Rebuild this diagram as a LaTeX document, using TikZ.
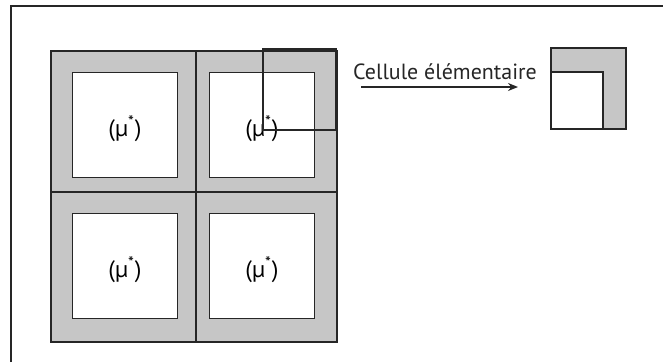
\documentclass[tikz,border=0pt]{standalone}
\usepackage{fontspec}
\setmainfont{PT Sans}
\usetikzlibrary{arrows.meta, positioning}
\definecolor{bandgray}{HTML}{C6C6C6}
\definecolor{inkline}{HTML}{262626}

\begin{document}
\begin{tikzpicture}[
  x=0.02cm, y=-0.02cm,
  >={Stealth[length=2mm, width=1.6mm]},
  incl/.style={draw=inkline, line width=0.9pt, fill=white,
    minimum width=2.1cm, minimum height=2.1cm, inner sep=0pt,
    text height=4.6mm, text depth=0mm, font=\fontsize{13.5}{15}\selectfont},
]
\useasboundingbox (0,0) rectangle (663,362);

% Frame (only top and left edges show)
\draw[inkline, line width=0.8pt] (11,362) -- (11,6) -- (663,6);

% === Matrix with four cells ===
\fill[bandgray] (51,51) rectangle (337,342);
\draw[inkline, line width=0.9pt] (51,51) rectangle (337,342);
\draw[inkline, line width=0.9pt] (196,51) -- (196,342);
\draw[inkline, line width=0.9pt] (51,192) -- (337,192);

% Inclusions
\node[incl] (c11) at (125,125) {(µ\textsuperscript{*})};
\node[incl] (c12) at (262,125) {(µ\textsuperscript{*})};
\node[incl] (c21) at (125,266) {(µ\textsuperscript{*})};
\node[incl] (c22) at (262,266) {(µ\textsuperscript{*})};

% === Elementary cell cut out of the top right cell ===
\draw[inkline, line width=1pt] (263,130) rectangle (336,49);

% Label and arrow
\node[font=\fontsize{12.5}{14}\selectfont, text=inkline] (lbl) at (445,72) {Cellule élémentaire};
\coordinate (a0) at (361,87);
\coordinate (a1) at (518,87);
\draw[->, inkline, line width=0.8pt] (a0) -- (a1);

% === Elementary cell, on its own ===
\fill[bandgray] (551,48) rectangle (626,129);
\fill[white] (551,72) rectangle (603,129);
\draw[inkline, line width=0.9pt] (551,72) -| (603,129);
\draw[inkline, line width=1pt] (551,48) rectangle (626,129);

\end{tikzpicture}
\end{document}
